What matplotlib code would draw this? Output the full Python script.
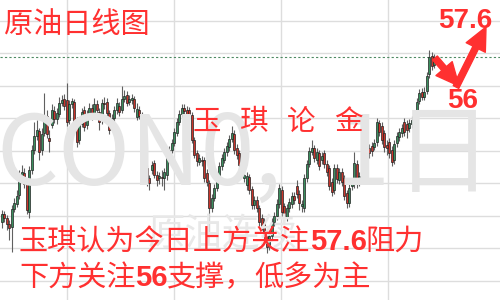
import matplotlib
matplotlib.use('Agg')
import matplotlib.pyplot as plt
import numpy as np

plt.rcParams['font.family'] = ['Noto Sans CJK SC', 'DejaVu Sans']

# daily candles, oldest first
opens = [48.90, 49.30, 49.10, 48.80, 48.65, 49.55, 49.80, 50.25, 51.25, 51.35,
         50.80, 49.40, 51.50, 52.50, 53.20, 53.45, 52.50, 53.35, 54.20, 53.10,
         53.75, 54.45, 54.05, 54.30, 54.85, 55.05, 55.00, 54.00, 54.80, 54.90,
         54.00, 53.00, 53.80, 54.50, 53.75, 54.30, 54.60, 54.25, 54.80, 54.40,
         54.00, 54.85, 54.90, 54.35, 53.70, 54.10, 54.50, 54.70, 54.50, 55.05,
         55.25, 54.90, 55.00, 55.05, 54.15, 54.50, 54.30, 52.60, 51.60, 51.10,
         51.50, 51.85, 51.25, 51.10, 51.15, 51.10, 51.25, 52.10, 52.50, 52.85,
         53.35, 53.90, 54.30, 54.60, 54.50, 54.50, 54.25, 53.00, 52.35, 51.90,
         52.00, 52.00, 51.35, 50.85, 49.60, 50.10, 50.60, 51.20, 51.70, 52.00,
         52.40, 52.65, 53.05, 53.30, 52.60, 52.35, 51.90, 51.10, 50.75, 51.15,
         50.55, 49.75, 50.00, 49.60, 49.10, 48.90, 48.35, 47.75, 48.20, 48.90,
         49.20, 49.80, 50.50, 49.70, 49.15, 49.60, 49.80, 50.20, 50.70, 50.30,
         49.70, 49.60, 51.10, 51.80, 52.40, 52.60, 52.00, 52.35, 52.00, 52.35,
         51.80, 51.60, 50.90, 50.50, 51.60, 51.00, 51.40, 51.10, 50.35, 49.85,
         50.70, 50.80, 51.80, 50.90, 51.20, 51.40, 52.00, 52.60, 52.70, 52.65,
         52.90, 53.85, 53.70, 53.35, 52.75, 52.90, 52.50, 52.00, 52.85, 53.15,
         53.35, 53.90, 53.80, 53.60, 53.80, 53.90, 54.25, 54.95, 55.40, 55.15,
         55.45, 56.30, 57.20, 56.75]
closes = [49.30, 49.10, 48.80, 48.60, 49.55, 49.85, 50.20, 51.20, 51.40, 50.80,
          49.50, 51.50, 52.50, 53.20, 53.50, 52.40, 53.30, 54.15, 53.30, 52.95,
          54.50, 54.05, 54.35, 54.85, 55.00, 54.70, 53.90, 54.80, 54.95, 53.85,
          52.90, 53.80, 54.40, 53.65, 54.30, 54.60, 54.20, 54.80, 54.50, 53.90,
          54.85, 54.80, 54.35, 53.50, 54.10, 54.50, 54.85, 54.40, 55.05, 55.20,
          54.85, 55.05, 55.10, 54.60, 54.55, 54.20, 52.60, 51.60, 51.00, 50.85,
          51.75, 51.25, 51.00, 51.20, 51.10, 51.40, 52.10, 52.50, 52.85, 53.40,
          53.90, 54.30, 54.60, 54.45, 54.15, 54.30, 53.00, 52.25, 51.95, 52.10,
          51.95, 51.10, 50.90, 49.60, 50.10, 50.60, 51.20, 51.70, 52.10, 52.40,
          52.70, 53.05, 53.35, 52.50, 52.25, 51.75, 51.40, 51.25, 51.20, 50.50,
          49.75, 50.00, 49.60, 48.90, 48.70, 48.25, 47.65, 48.20, 48.90, 49.20,
          49.80, 50.60, 49.40, 49.20, 49.60, 49.90, 50.20, 50.00, 50.30, 49.85,
          49.80, 51.10, 51.80, 52.45, 52.60, 52.10, 52.40, 51.70, 52.20, 51.80,
          51.40, 50.70, 50.40, 51.60, 51.05, 51.40, 50.90, 50.20, 49.85, 50.60,
          50.80, 51.85, 50.85, 51.20, 51.40, 52.00, 52.30, 52.35, 52.45, 52.85,
          53.90, 53.40, 53.00, 52.65, 52.60, 52.35, 51.90, 52.80, 53.20, 53.40,
          53.60, 53.40, 53.50, 53.85, 54.00, 54.20, 54.90, 55.35, 55.15, 55.40,
          56.20, 57.15, 56.70, 57.15]
highs = [49.50, 49.45, 49.25, 49.00, 49.75, 50.10, 50.50, 51.50, 51.75, 51.60,
         51.00, 51.70, 52.75, 53.90, 54.00, 53.60, 53.60, 55.35, 54.50, 53.50,
         54.80, 54.70, 54.60, 55.15, 55.25, 55.30, 55.85, 55.00, 55.10, 55.05,
         54.15, 54.00, 54.60, 54.70, 54.50, 54.85, 54.80, 55.10, 55.00, 54.60,
         55.05, 55.15, 55.10, 54.50, 54.30, 54.70, 55.10, 54.90, 55.70, 55.50,
         55.45, 55.25, 55.30, 55.20, 54.85, 54.70, 54.40, 52.70, 51.75, 51.25,
         51.95, 52.00, 51.45, 51.40, 51.50, 51.60, 52.30, 52.70, 53.05, 53.60,
         54.10, 54.50, 54.80, 54.80, 54.70, 54.65, 54.40, 53.15, 52.50, 52.30,
         52.20, 52.15, 51.55, 51.00, 50.30, 50.80, 51.40, 51.90, 52.30, 52.60,
         52.90, 53.25, 53.70, 53.50, 52.80, 52.50, 52.10, 51.45, 51.40, 51.30,
         50.70, 50.20, 50.20, 49.75, 49.30, 49.10, 48.50, 48.40, 49.10, 49.40,
         50.05, 50.80, 50.70, 49.85, 49.80, 50.10, 50.40, 50.40, 51.00, 50.50,
         50.00, 51.30, 52.00, 52.65, 53.00, 52.75, 52.60, 52.50, 52.40, 52.50,
         52.00, 51.75, 51.10, 51.80, 51.80, 51.60, 51.60, 51.25, 50.50, 50.80,
         51.00, 52.40, 52.00, 51.40, 51.60, 52.25, 52.50, 52.80, 52.90, 53.05,
         54.10, 54.00, 53.90, 53.50, 53.00, 53.10, 52.70, 53.00, 53.40, 53.60,
         53.80, 54.10, 54.00, 54.05, 54.20, 54.40, 55.10, 55.55, 55.60, 55.65,
         56.40, 57.50, 57.40, 57.30]
lows = [48.60, 48.90, 48.50, 48.00, 47.40, 49.40, 49.65, 50.05, 51.00, 50.60,
        49.30, 49.10, 51.30, 52.30, 53.00, 52.00, 52.25, 53.20, 53.10, 52.40,
        53.60, 53.85, 53.80, 54.15, 54.70, 54.50, 53.70, 53.80, 54.60, 53.65,
        52.65, 52.80, 53.65, 53.45, 53.55, 54.15, 54.00, 54.10, 54.30, 53.50,
        53.80, 54.55, 54.15, 53.30, 53.50, 53.90, 54.30, 54.20, 54.35, 54.90,
        54.70, 54.75, 54.80, 54.40, 54.00, 54.05, 52.40, 51.40, 50.70, 50.50,
        51.30, 51.10, 50.70, 50.80, 50.70, 50.50, 51.00, 51.90, 52.35, 52.70,
        53.20, 53.75, 54.15, 54.30, 53.95, 54.15, 52.85, 52.10, 51.70, 51.75,
        51.70, 50.90, 50.70, 48.40, 49.40, 49.95, 50.45, 51.05, 51.50, 51.85,
        52.20, 52.45, 52.90, 52.30, 52.05, 51.55, 51.20, 50.90, 50.50, 50.30,
        49.55, 49.55, 49.40, 48.70, 48.50, 48.00, 47.35, 47.50, 48.00, 48.70,
        49.00, 49.60, 49.20, 48.90, 48.95, 49.40, 49.60, 49.80, 50.10, 49.50,
        49.40, 49.40, 50.90, 51.65, 52.25, 51.90, 51.80, 51.50, 51.80, 51.60,
        51.20, 50.50, 50.20, 50.30, 50.85, 50.80, 50.70, 50.00, 49.60, 49.65,
        50.50, 50.60, 50.60, 50.70, 51.00, 51.20, 51.80, 52.10, 52.20, 52.50,
        52.70, 53.20, 52.80, 52.40, 52.25, 52.10, 51.70, 51.80, 52.65, 52.95,
        53.15, 53.20, 53.10, 53.40, 53.60, 53.75, 54.10, 54.80, 55.00, 55.00,
        55.30, 56.10, 56.50, 56.60]

last_price = 57.15
target_up = '57.6'
target_down = '56'
title = '原油日线图'
brand = ['玉', '琪', '论', '金']
line1 = ['玉琪认为今日上方关注', '57.6', '阻力']
line2 = ['下方关注', '56', '支撑，', '低多为主']

RED = '#ff3030'
GREEN = '#3b8f5e'
DOWN = '#c9352b'
W, H = 500, 300


def fxy(x, y):
    # pixel position (from top left) -> figure fraction
    return x / W, 1 - y / H


fig = plt.figure(figsize=(5, 3), dpi=100)
ax = fig.add_axes([0, 0, 1, 1])
ax.set_xlim(-0.6, 199.4)
ax.set_ylim(45, 60)
ax.axis('off')

# grid
for lv in 45.975 + 1.625 * np.arange(9):
    ax.axhline(lv, color='#dddddd', lw=1.0, zorder=0)
for xv in 26.2 + 42.8 * np.arange(4):
    ax.axvline(xv, color='#dddddd', lw=1.0, zorder=0)

# watermarks
wm = '#e5e5e5'
fig.text(*fxy(-4, 185), 'CON0,', fontsize=70, color=wm, ha='left', va='baseline', zorder=1)
fig.text(*fxy(362, 185), '1', fontsize=70, color=wm, ha='center', va='baseline', zorder=1)
fig.text(*fxy(443, 185), '日', fontsize=70, color=wm, ha='center', va='baseline', zorder=1)
fig.text(*fxy(148, 245), '原油连续', fontsize=27, color='#e8e8e8', ha='left', va='baseline', zorder=1)

ax.axhline(last_price, color='#4f8a63', lw=0.8, ls=(0, (2, 2)), zorder=2)

# candles
o = np.array(opens)
c = np.array(closes)
idx = np.arange(len(o))
up = c >= o
ax.vlines(idx, lows, highs, color='#606060', lw=0.8, zorder=3)
body_lo = np.minimum(o, c)
body_h = np.maximum(np.abs(c - o), 0.04)
ax.bar(idx, body_h, bottom=body_lo, width=0.8,
       color=np.where(up, GREEN, DOWN), edgecolor='#222222', linewidth=0.5, zorder=4)

# red labels
fig.text(*fxy(4, 33), title, fontsize=21, color=RED, va='baseline', zorder=6)
for ch, xc in zip(brand, [207, 254, 301, 348]):
    fig.text(*fxy(xc, 130), ch, fontsize=20.5, color=RED, ha='center', va='baseline', zorder=6)

num_font = dict(family='Liberation Sans', weight='bold')
fig.text(*fxy(438, 28), target_up, fontsize=20, color=RED, va='baseline', zorder=6, **num_font)
fig.text(*fxy(463, 108), target_down, fontsize=20, color=RED, ha='center', va='baseline', zorder=6, **num_font)

cjk = 21
fig.text(*fxy(19, 250), line1[0], fontsize=cjk, color=RED, va='baseline', zorder=6)
fig.text(*fxy(310, 250), line1[1], fontsize=21, color=RED, va='baseline', zorder=6, **num_font)
fig.text(*fxy(365, 250), line1[2], fontsize=cjk, color=RED, va='baseline', zorder=6)

fig.text(*fxy(19, 286), line2[0], fontsize=cjk, color=RED, va='baseline', zorder=6)
fig.text(*fxy(135, 286), line2[1], fontsize=21, color=RED, va='baseline', zorder=6, **num_font)
fig.text(*fxy(167, 286), line2[2], fontsize=cjk, color=RED, va='baseline', zorder=6)
fig.text(*fxy(254, 286), line2[3], fontsize=cjk, color=RED, va='baseline', zorder=6)

# arrows: down to 56, then up to 57.6
arrow = dict(arrowstyle='simple,head_length=0.75,head_width=0.7,tail_width=0.2',
             color=RED, shrinkA=0, shrinkB=0, mutation_scale=22)
ax.annotate('', xy=fxy(459, 86), xytext=fxy(435, 58), xycoords='figure fraction',
            textcoords='figure fraction', arrowprops=arrow, zorder=7)
ax.annotate('', xy=fxy(486, 27), xytext=fxy(456, 87), xycoords='figure fraction',
            textcoords='figure fraction', arrowprops=arrow, zorder=7)

fig.savefig('out.png', dpi=100)
